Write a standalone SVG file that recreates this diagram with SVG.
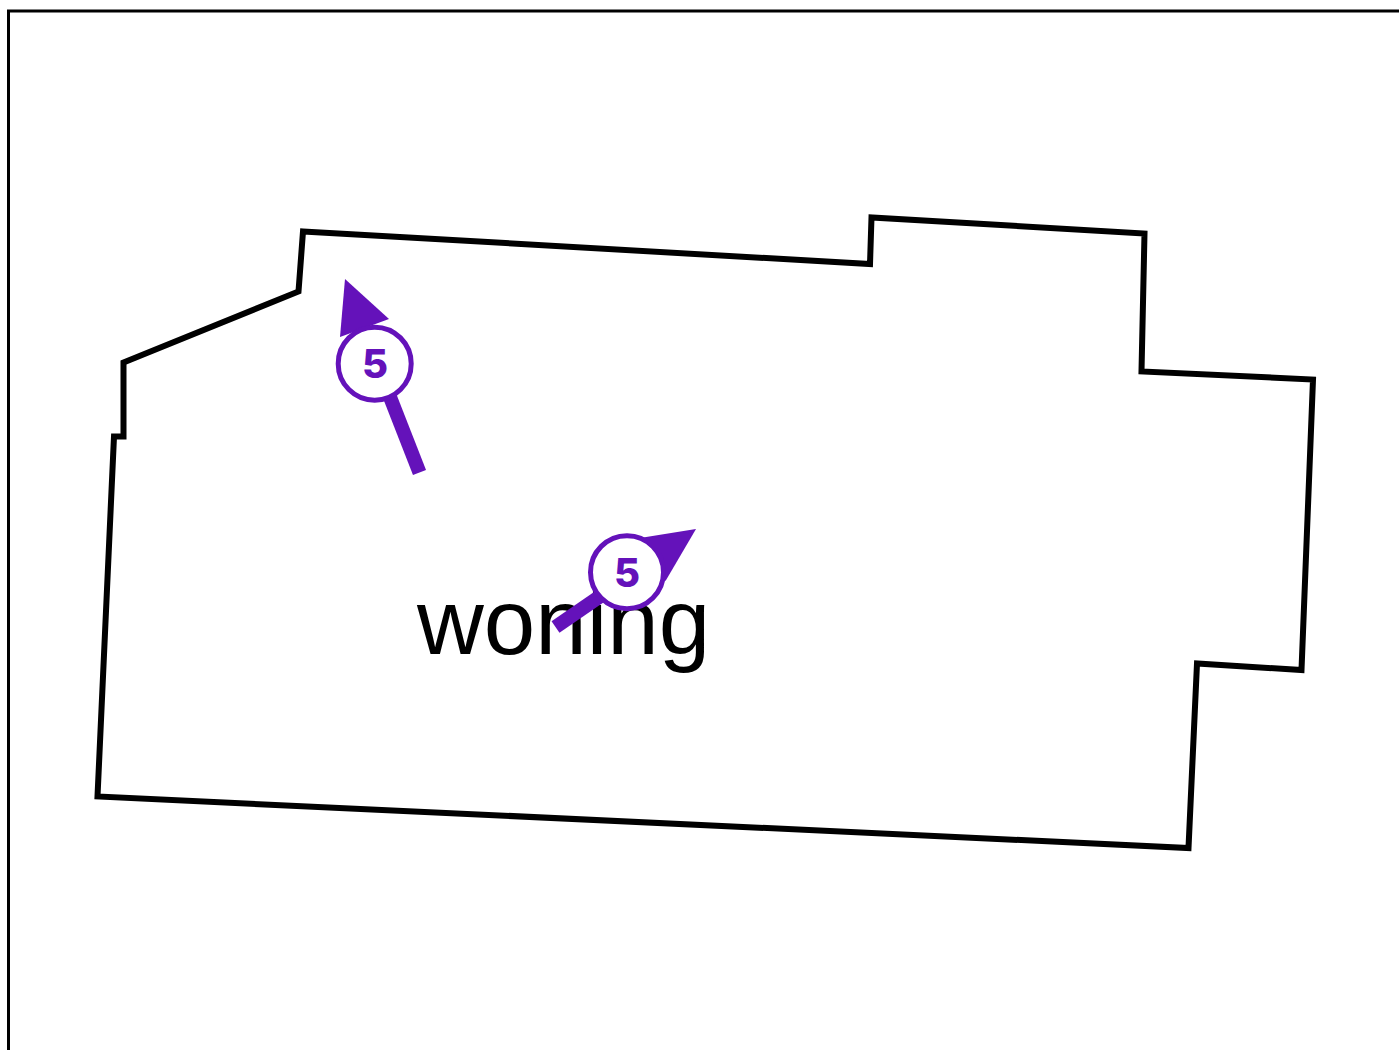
<svg xmlns="http://www.w3.org/2000/svg" width="1399" height="1050" viewBox="0 0 1399 1050">
<style>
.plan{fill:none;stroke:#000;stroke-width:6;stroke-linejoin:miter}
.frame{fill:none;stroke:#000;stroke-width:3}
.shaft{stroke:#6412BA;stroke-width:14;fill:none}
.head{fill:#6412BA}
.ring{fill:#fff;stroke:#6412BA;stroke-width:5}
.num{font-family:"Inter","Liberation Sans",sans-serif;font-weight:800;font-size:40px;fill:#6412BA;text-anchor:middle}
.room{font-family:"Liberation Sans",Arial,sans-serif;font-size:92.500px;fill:#000}
</style>
<rect width="1399" height="1050" fill="#fff"/>
<path class="frame" d="M8.500 1050V11H1399"/>
<path id="plan" class="plan" d="M303 231.500L870 264L871.500 217.500L1144.500 233.500L1141.500 371.500L1313 379.500L1301.500 670L1197 663.500L1188.500 848L97.500 796.500L114 436.500H123.500V362.500L298.500 291.500L303 231.500Z"/>
<text id="label" class="room" x="417" y="654">woning</text>
<g id="connectors">
<path class="shaft" d="M419.500 472.500L390 397"/>
<path class="shaft" d="M555.500 627L602 595"/>
</g>
<g id="marker-1">
<polygon class="head" points="345,279 389,319 340,337"/>
<circle class="ring" cx="374.700" cy="363.700" r="36.500"/>
<text class="num" x="375" y="378">5</text>
</g>
<g id="marker-2">
<polygon class="head" points="696,529 640,538 665.500,581"/>
<circle class="ring" cx="627" cy="572.200" r="36.500"/>
<text class="num" x="627" y="587">5</text>
</g>
</svg>
